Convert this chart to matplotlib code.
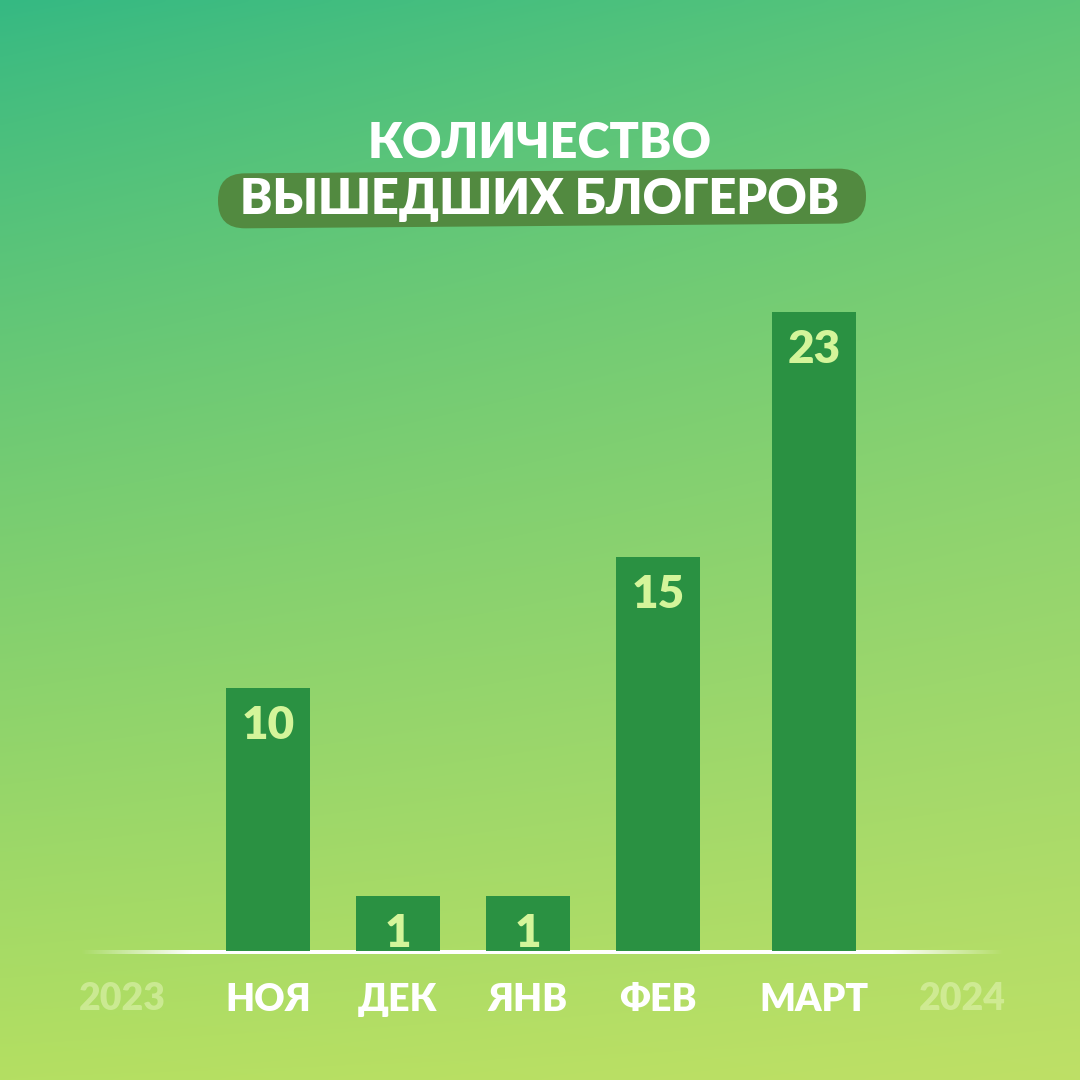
import matplotlib
matplotlib.use("Agg")
import matplotlib.pyplot as plt
import matplotlib.transforms as mtransforms
from matplotlib.patches import FancyBboxPatch
from matplotlib.colors import to_rgb
import numpy as np

# data
months = ["НОЯ", "ДЕК", "ЯНВ", "ФЕВ", "МАРТ"]
values = [10, 1, 1, 15, 23]
# drawn bar lengths (the small bars are drawn taller than their value)
bar_height = [10, 2.1, 2.1, 15, 24.3]
x_pos = [0, 1, 2, 3, 4.2]
years = ["2023", "2024"]
year_pos = [-1.12, 5.34]
title_1 = "КОЛИЧЕСТВО"
title_2 = "ВЫШЕДШИХ БЛОГЕРОВ"

BAR = "#2a9142"
LABEL = "#d4f59a"
BOX = "#528a40"
FONT = ["Lato", "DejaVu Sans"]

W = H = 1080
fig = plt.figure(figsize=(10.8, 10.8), dpi=100)

# background gradient (bilinear between corner colours)
tl, tr = np.array(to_rgb("#35b983")), np.array(to_rgb("#5cc679"))
bl, br = np.array(to_rgb("#b4df62")), np.array(to_rgb("#bee066"))
yy, xx = np.mgrid[0:1:200j, 0:1:200j]
yy = yy ** 0.85
top = tl[None, None, :] * (1 - xx[..., None]) + tr[None, None, :] * xx[..., None]
bot = bl[None, None, :] * (1 - xx[..., None]) + br[None, None, :] * xx[..., None]
grad = top * (1 - yy[..., None]) + bot * yy[..., None]
bg = fig.add_axes([0, 0, 1, 1])
bg.imshow(grad, extent=[0, W, H, 0], aspect="auto", interpolation="bicubic")
bg.set_xlim(0, W)
bg.set_ylim(H, 0)
bg.axis("off")

# title with tilted rounded box behind second line
box = FancyBboxPatch((218, 171), 648, 55, boxstyle="round,pad=0,rounding_size=27",
                     fc=BOX, ec="none", zorder=2)
rot = mtransforms.Affine2D().rotate_deg_around(540, 198, -0.45)
box.set_transform(rot + bg.transData)
bg.add_patch(box)
bg.text(540, 143, title_1, ha="center", va="center", color="white",
        fontsize=35, fontweight="heavy", family=FONT, zorder=3)
bg.text(540, 200, title_2, ha="center", va="center", color="white",
        fontsize=35, fontweight="heavy", family=FONT, zorder=3)

# baseline with faded ends, drawn as one RGBA strip
xs = np.linspace(0, 1, 400)
fade = np.clip(np.minimum(xs / 0.12, (1 - xs) / 0.12), 0, 1)
strip = np.ones((1, len(xs), 4))
strip[0, :, 3] = fade
bg.imshow(strip, extent=[80, 1005, 954, 950], aspect="auto",
          interpolation="bilinear", zorder=2)
bg.set_xlim(0, W)
bg.set_ylim(H, 0)

# bar chart axes, baseline at y=951 px
unit = 130.0
x0 = 268.0
base = 951.0
ppv = 26.3
ax = fig.add_axes([0, (H - base) / H, 1, base / H])
ax.patch.set_alpha(0)
ax.set_xlim(-x0 / unit, (W - x0) / unit)
ax.set_ylim(0, base / ppv)
ax.bar(x_pos, bar_height, width=0.645, color=BAR, zorder=3)
for x, h, v in zip(x_pos, bar_height, values):
    off = mtransforms.offset_copy(ax.transData, fig=fig, y=-17, units="dots")
    ax.text(x, h, str(v), transform=off, ha="center", va="top", color=LABEL,
            fontsize=33, fontweight="heavy", family=FONT, zorder=4)

ax.set_xticks(x_pos)
ax.set_xticklabels(months)
ax.tick_params(axis="x", length=0, pad=23, labelcolor="white", labelsize=27)
for t in ax.get_xticklabels():
    t.set_fontweight("heavy")
    t.set_family(FONT)
ax.set_yticks([])
for s in ax.spines.values():
    s.set_visible(False)

ytr = mtransforms.blended_transform_factory(ax.transData, ax.transAxes)
for x, yr in zip(year_pos, years):
    off = mtransforms.offset_copy(ytr, fig=fig, y=-48, units="dots")
    ax.text(x, 0, yr, transform=off, ha="center", va="center", color="#e4f5b8",
            alpha=0.55, fontsize=27, fontweight="heavy", family=FONT)

fig.savefig("out.png", dpi=100)
